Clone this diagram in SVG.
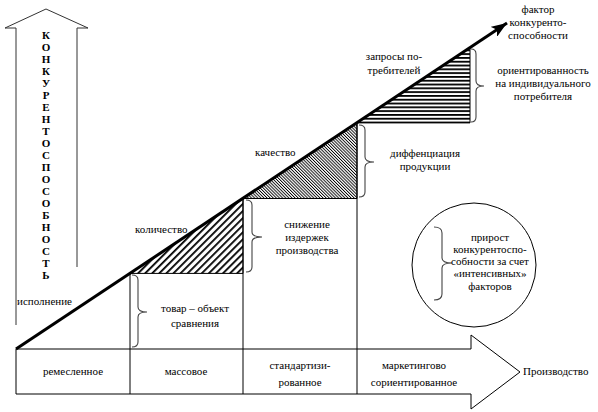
<svg xmlns="http://www.w3.org/2000/svg" width="598" height="412" viewBox="0 0 598 412" font-family="'Liberation Serif', 'DejaVu Serif', serif">
<style>
text{font-family:'Liberation Serif','DejaVu Serif',serif;font-size:11px;fill:#000}
.m{text-anchor:middle}
.ln{fill:none;stroke:#000;stroke-width:1}
.br{fill:none;stroke:#444;stroke-width:1.1}
.big{font-weight:bold;font-size:11px;text-anchor:middle}
</style>
<defs>
<pattern id="p1" patternUnits="userSpaceOnUse" width="5" height="5" patternTransform="rotate(45)">
<rect x="0" y="0" width="1.8" height="5" fill="#000"/>
</pattern>
<pattern id="p2" patternUnits="userSpaceOnUse" width="2.2" height="4" patternTransform="rotate(-45)">
<rect x="0" y="0" width="0.9" height="4" fill="#000"/>
</pattern>
<pattern id="p3" patternUnits="userSpaceOnUse" width="8" height="3.8">
<rect x="0" y="0" width="8" height="1.8" fill="#000"/>
</pattern>
<marker id="ah" markerUnits="userSpaceOnUse" markerWidth="18" markerHeight="12" refX="16" refY="6" orient="auto">
<path d="M0,0 L16,6 L0,12 L4,6 Z" fill="#000"/>
</marker>
</defs>

<g id="axis-competitiveness">
<path d="M16,325 L16,28 L5,28 L46,9 L88,28 L77,28 L77,267" fill="none" stroke="#333" stroke-width="1"/>
<text class="big"><tspan x="46" y="39">К</tspan><tspan x="46" dy="12">О</tspan><tspan x="46" dy="12">Н</tspan><tspan x="46" dy="12">К</tspan><tspan x="46" dy="12">У</tspan><tspan x="46" dy="12">Р</tspan><tspan x="46" dy="12">Е</tspan><tspan x="46" dy="12">Н</tspan><tspan x="46" dy="12">Т</tspan><tspan x="46" dy="12">О</tspan><tspan x="46" dy="12">С</tspan><tspan x="46" dy="12">П</tspan><tspan x="46" dy="12">О</tspan><tspan x="46" dy="12">С</tspan><tspan x="46" dy="12">О</tspan><tspan x="46" dy="12">Б</tspan><tspan x="46" dy="12">Н</tspan><tspan x="46" dy="12">О</tspan><tspan x="46" dy="12">С</tspan><tspan x="46" dy="12">Т</tspan><tspan x="46" dy="12">Ь</tspan></text>
</g>

<g id="axis-production">
<path d="M16,349 L471,349 L471,335 L520,372 L471,409 L471,394 L16,394 Z" fill="#fff" stroke="#000" stroke-width="1"/>
<text x="523" y="375">Производство</text>
</g>

<g id="triangles">
<polygon points="130,273.4 243,198.5 243,273.4" fill="url(#p1)" stroke="#000" stroke-width="1"/>
<polygon points="243,198.5 357,122.9 357,198.5" fill="url(#p2)" stroke="#000" stroke-width="1"/>
<polygon points="357,122.9 470,48 470,122.9" fill="url(#p3)" stroke="#000" stroke-width="1"/>
</g>

<g id="connectors">
<line class="ln" x1="130" y1="273.4" x2="130" y2="394"/>
<line class="ln" x1="243" y1="198.5" x2="243" y2="394"/>
<line class="ln" x1="357" y1="122.9" x2="357" y2="394"/>
<line x1="16" y1="349" x2="507" y2="23" stroke="#000" stroke-width="3" marker-end="url(#ah)"/>
<path class="br" d="M132,275 Q138,275 138,280 L138,307 Q138,312 147,312 Q138,312 138,317 L138,342 Q138,347 132,347"/>
<path class="br" d="M246,200 Q252,200 252,205 L252,232 Q252,237 262,237 Q252,237 252,242 L252,267 Q252,272 246,272"/>
<path class="br" d="M359,125 Q365,125 365,130 L365,157 Q365,162 374,162 Q365,162 365,167 L365,192 Q365,197 359,197"/>
<path class="br" d="M471,49 Q476,49 476,54 L476,81 Q476,86 484,86 Q476,86 476,91 L476,117 Q476,122 471,122"/>
</g>

<g id="label-ispolnenie"><text x="17" y="305">исполнение</text></g>
<g id="label-kolichestvo"><text x="135" y="233">количество</text></g>
<g id="label-kachestvo"><text x="255" y="156">качество</text></g>
<g id="label-zaprosy"><text class="m" x="394" y="60">запросы по-</text><text class="m" x="394" y="74">требителей</text></g>
<g id="label-factor"><text class="m" x="538" y="13">фактор</text><text class="m" x="538" y="26">конкуренто-</text><text class="m" x="538" y="39">способности</text></g>

<g id="node-tovar"><text class="m" x="195" y="312">товар – объект</text><text class="m" x="195" y="327">сравнения</text></g>
<g id="node-snizhenie"><text class="m" x="307" y="228">снижение</text><text class="m" x="307" y="241">издержек</text><text class="m" x="307" y="254">производства</text></g>
<g id="node-diff"><text class="m" x="425" y="157">диффенциация</text><text class="m" x="425" y="170">продукции</text></g>
<g id="node-orient"><text class="m" x="543" y="74">ориентированность</text><text class="m" x="543" y="87">на индивидуального</text><text class="m" x="543" y="100">потребителя</text></g>

<g id="node-circle">
<circle cx="474" cy="265" r="62" fill="none" stroke="#000" stroke-width="1"/>
<path class="br" d="M434,227 Q442,227 442,233 L442,258 Q442,263 452,263 Q442,263 442,268 L442,294 Q442,300 434,300"/>
<text class="m" x="490" y="241">прирост</text>
<text class="m" x="490" y="253">конкурентоспо-</text>
<text class="m" x="490" y="265">собности за счет</text>
<text class="m" x="490" y="277">«интенсивных»</text>
<text class="m" x="490" y="290">факторов</text>
</g>

<g id="cells">
<text class="m" x="73" y="375">ремесленное</text>
<text class="m" x="186" y="375">массовое</text>
<text class="m" x="300" y="369">стандартизи-</text>
<text class="m" x="300" y="386">рованное</text>
<text class="m" x="414" y="369">маркетингово</text>
<text class="m" x="414" y="386">сориентированное</text>
</g>
</svg>
